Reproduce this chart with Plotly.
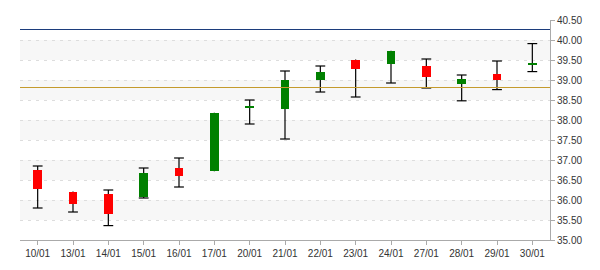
import plotly.graph_objects as go

dates = ["10/01", "13/01", "14/01", "15/01", "16/01", "17/01", "20/01", "21/01",
         "22/01", "23/01", "24/01", "27/01", "28/01", "29/01", "30/01"]
opens = [36.74, 36.21, 36.16, 36.07, 36.80, 36.72, 38.30, 38.27,
         38.99, 39.51, 39.39, 39.36, 38.89, 39.16, 39.38]
closes = [36.27, 35.89, 35.64, 36.68, 36.59, 38.18, 38.34, 39.01,
          39.21, 39.265, 39.73, 39.065, 39.03, 38.99, 39.42]
highs = [36.85, 36.21, 36.25, 36.80, 37.05, 38.18, 38.50, 39.225,
         39.35, 39.51, 39.73, 39.525, 39.125, 39.475, 39.91]
lows = [35.80, 35.70, 35.36, 36.05, 36.325, 36.72, 37.90, 37.525,
        38.70, 38.575, 38.925, 38.80, 38.48, 38.76, 39.21]

upper_level = 40.2625
lower_level = 38.8125

y_min, y_max = 35.0, 40.5
band_pairs = [(35.5, 36.0), (36.5, 37.0), (37.5, 38.0), (38.5, 39.0), (39.5, 40.0)]

mids = [(h + l) / 2 for h, l in zip(highs, lows)]
err_up = [h - m for h, m in zip(highs, mids)]
err_dn = [m - l for l, m in zip(lows, mids)]
base = [min(o, c) for o, c in zip(opens, closes)]
height = [max(abs(c - o), 0.04) for o, c in zip(opens, closes)]
colors = ["#008000" if c >= o else "#ff0000" for o, c in zip(opens, closes)]
cap_hi = [h if h > max(o, c) + 0.01 else None for h, o, c in zip(highs, opens, closes)]
cap_lo = [l if l < min(o, c) - 0.01 else None for l, o, c in zip(lows, opens, closes)]

fig = go.Figure()

fig.add_trace(go.Scatter(
    x=dates, y=mids, mode="markers",
    marker=dict(size=1, color="rgba(0,0,0,0)"),
    error_y=dict(type="data", symmetric=False, array=err_up, arrayminus=err_dn,
                 color="black", thickness=1.2, width=0),
    hoverinfo="skip", showlegend=False,
))

fig.add_trace(go.Scatter(
    x=dates + dates, y=cap_hi + cap_lo, mode="markers",
    marker=dict(symbol="line-ew", size=7, line=dict(color="black", width=1.2)),
    hoverinfo="skip", showlegend=False,
))

fig.add_trace(go.Bar(
    x=dates, y=height, base=base, width=0.25,
    marker=dict(color=colors, line=dict(width=0)),
    yaxis="y2", hoverinfo="skip", showlegend=False,
))

shapes = []
for lo, hi in band_pairs:
    shapes.append(dict(type="rect", xref="paper", yref="y", x0=0, x1=1, y0=lo, y1=hi,
                       fillcolor="#f7f7f7", line=dict(width=0), layer="below"))
shapes.append(dict(type="line", xref="paper", yref="y", x0=0, x1=1,
                   y0=upper_level, y1=upper_level,
                   line=dict(color="#1c3d7c", width=1), layer="above"))
shapes.append(dict(type="line", xref="paper", yref="y", x0=0, x1=1,
                   y0=lower_level, y1=lower_level,
                   line=dict(color="#c49a2c", width=1), layer="above"))

fig.update_layout(
    width=600, height=270,
    margin=dict(l=20, r=50, t=20, b=30),
    paper_bgcolor="white", plot_bgcolor="white",
    font=dict(family="Liberation Sans, Arial, sans-serif", size=10, color="#333333"),
    shapes=shapes,
    bargap=0,
    xaxis=dict(type="category", categoryorder="array", categoryarray=dates,
               range=[-0.5, len(dates) - 0.5],
               showgrid=False, showline=True, linecolor="#aaaaaa", linewidth=1,
               ticks="outside", ticklen=4, tickcolor="#aaaaaa", zeroline=False,
               tickfont=dict(size=10, color="#333333")),
    yaxis=dict(side="right", range=[y_min, y_max], dtick=0.5, tick0=35,
               tickformat=".2f", showgrid=True, gridcolor="#dddddd",
               griddash="3px,5px", gridwidth=1,
               showline=True, linecolor="#aaaaaa", linewidth=1,
               ticks="outside", ticklen=4, tickcolor="#aaaaaa", zeroline=False,
               tickfont=dict(size=10, color="#333333")),
    yaxis2=dict(overlaying="y", side="right", range=[y_min, y_max], visible=False,
                showgrid=False, zeroline=False),
)

fig.write_html("out.html")
